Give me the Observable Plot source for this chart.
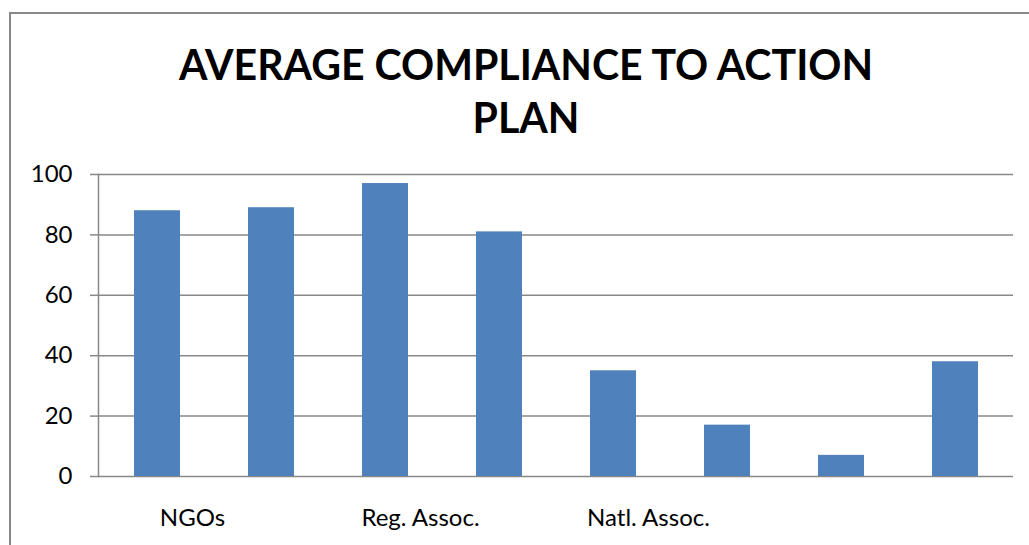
<!DOCTYPE html>
<html>
<head>
<meta charset="utf-8">
<script src="https://cdn.jsdelivr.net/npm/d3@7"></script>
<script src="https://cdn.jsdelivr.net/npm/@observablehq/plot@0.6"></script>
<style>
  html, body { margin: 0; padding: 0; background: #fff; }
  #wrap { position: relative; width: 1029px; height: 545px; overflow: hidden; background: #fff; }
  #frame { position: absolute; left: 9px; top: 12px; width: 1060px; height: 600px; border: 2px solid #888888; box-sizing: border-box; }
  #title { position: absolute; left: 0; width: 1052px; text-align: center; font-family: Lato, "Open Sans", sans-serif; font-weight: bold; color: #000; line-height: 53px; }
  #chart { position: absolute; left: 0; top: 150px; }
</style>
</head>
<body>
<div id="wrap">
  <div id="frame"></div>
  <div id="title"></div>
  <div id="chart"></div>
</div>
<script>
// ---- data ----
const titleLines = ["AVERAGE COMPLIANCE TO ACTION", "PLAN"];
const categoryLabels = ["NGOs", "", "Reg. Assoc.", "", "Natl. Assoc.", "", "", ""];
const values = [88, 89, 97, 81, 35, 17, 7, 38];
const yTicks = [0, 20, 40, 60, 80, 100];

const data = values.map((v, i) => ({index: i, value: v}));

// ---- title (fit line 1 width to reference) ----
const titleEl = document.getElementById("title");
const ctx = document.createElement("canvas").getContext("2d");
ctx.font = "bold 40px Lato";
const w40 = ctx.measureText(titleLines[0]).width;
const fs = 40 * 697 / w40;
titleEl.style.fontSize = fs + "px";
titleEl.innerHTML = titleLines.join("<br>");
// baseline of first line at y=80
const halfLead = (53 - 1.2 * fs) / 2;
titleEl.style.top = (80 - halfLead - 0.987 * fs) + "px";

// ---- chart ----
const gray = "#888888";
const chart = Plot.plot({
  width: 1029,
  height: 395,
  marginTop: 24,
  marginBottom: 69,
  marginLeft: 98,
  marginRight: 16,
  style: {fontFamily: "Lato, 'Open Sans', sans-serif", fontSize: "24px", color: "#000", background: "transparent"},
  x: {type: "band", domain: d3.range(values.length), paddingInner: 0.6, paddingOuter: 0.3},
  y: {domain: [0, 100]},
  marks: [
    Plot.gridY(yTicks, {stroke: gray, strokeOpacity: 1, strokeWidth: 1.5}),
    Plot.barY(data, {x: "index", y: "value", fill: "#4F81BD"}),
    Plot.frame({anchor: "left", stroke: gray, strokeWidth: 1.5}),
    Plot.axisY(yTicks, {tickSize: 8, tickPadding: 18, stroke: gray, strokeWidth: 1.5, fill: "#000", fontSize: 24, label: null}),
    Plot.axisX({tickSize: 0, tickPadding: 32, tickFormat: i => categoryLabels[i], dx: 35, fill: "#000", fontSize: 24, label: null})
  ]
});
document.getElementById("chart").appendChild(chart);
</script>
</body>
</html>
